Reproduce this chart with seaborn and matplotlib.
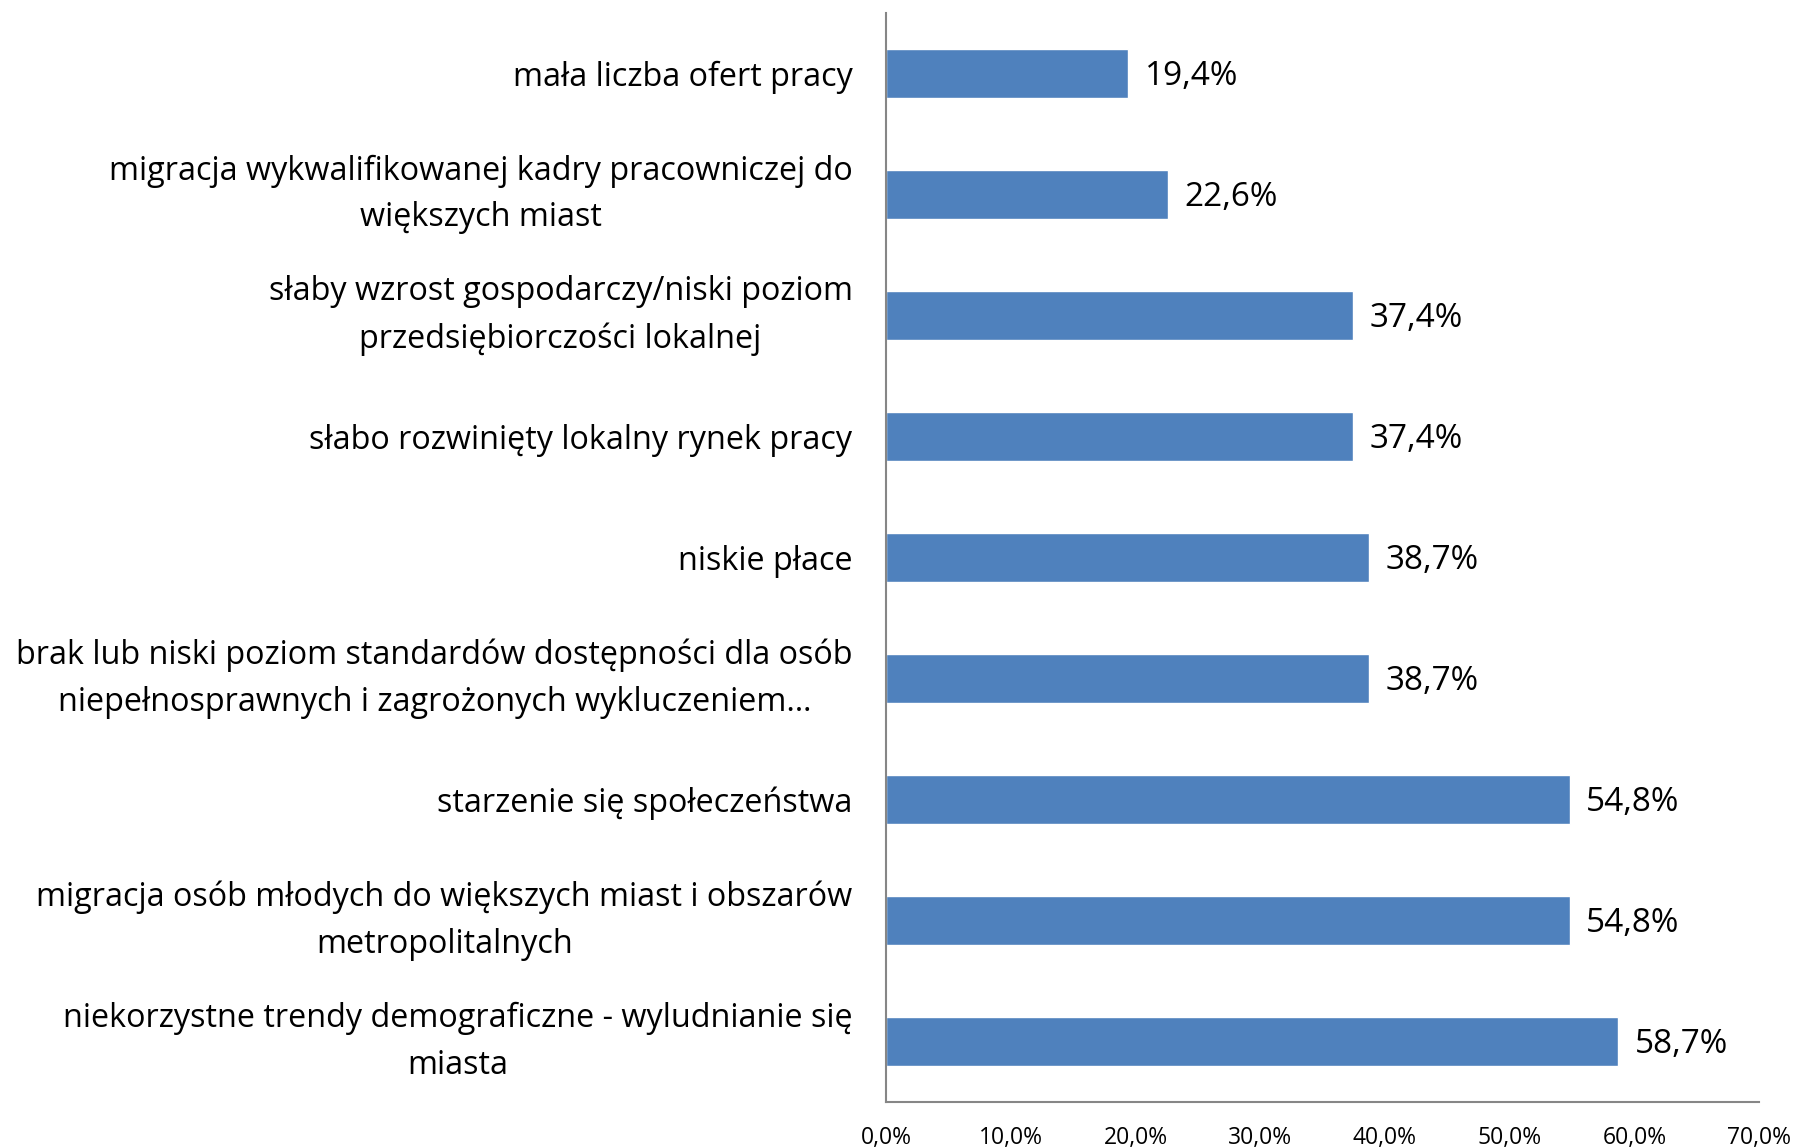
import matplotlib.pyplot as plt
import seaborn as sns
import pandas as pd
from matplotlib.ticker import FuncFormatter

# Dane (od góry do dołu)
categories = [
    'mała liczba ofert pracy',
    'migracja wykwalifikowanej kadry pracowniczej do\nwiększych miast',
    'słaby wzrost gospodarczy/niski poziom\nprzedsiębiorczości lokalnej',
    'słabo rozwinięty lokalny rynek pracy',
    'niskie płace',
    'brak lub niski poziom standardów dostępności dla osób\nniepełnosprawnych i zagrożonych wykluczeniem…',
    'starzenie się społeczeństwa',
    'migracja osób młodych do większych miast i obszarów\nmetropolitalnych',
    'niekorzystne trendy demograficzne - wyludnianie się\nmiasta',
]
values = [19.4, 22.6, 37.4, 37.4, 38.7, 38.7, 54.8, 54.8, 58.7]
x_ticks = [0, 10, 20, 30, 40, 50, 60, 70]

df = pd.DataFrame({'kategoria': categories, 'procent': values})

sns.set_style('white')
plt.rcParams['font.family'] = ['Open Sans', 'DejaVu Sans']
plt.rcParams['text.color'] = 'black'

axis_color = '#868686'
pct = lambda v: f'{v:.1f}%'.replace('.', ',')

fig, ax = plt.subplots(figsize=(17.97, 11.48), dpi=100)
fig.subplots_adjust(left=0.493, right=0.979, top=0.9887, bottom=0.04)

sns.barplot(data=df, x='procent', y='kategoria', color='#4F81BD',
            saturation=1, width=0.4, ax=ax)

ax.set_xlim(0, 70)
ax.set_ylim(len(categories) - 0.5, -0.5)
ax.set_xticks(x_ticks)
ax.xaxis.set_major_formatter(FuncFormatter(lambda v, p: pct(v)))
ax.set_xlabel('')
ax.set_ylabel('')

# kreski osi Y na granicach kategorii
ax.set_yticks([i - 0.5 for i in range(len(categories) + 1)], minor=True)
ax.tick_params(axis='y', which='major', length=0, pad=24, labelsize=23.3,
               labelcolor='black')
ax.tick_params(axis='y', which='minor', length=12, width=1.5, color=axis_color)
ax.tick_params(axis='x', which='major', length=9, width=1.5, color=axis_color,
               pad=8, labelsize=16.5, labelcolor='black')
for lbl in ax.get_yticklabels():
    lbl.set_multialignment('center')
    if '\n' in lbl.get_text():
        lbl.set_linespacing(1.55)
        lbl.set_verticalalignment('center')

for side in ['top', 'right']:
    ax.spines[side].set_visible(False)
for side in ['left', 'bottom']:
    ax.spines[side].set_color(axis_color)
    ax.spines[side].set_linewidth(1.5)

for p, v in zip(ax.patches, values):
    ax.annotate(pct(v), (p.get_width(), p.get_y() + p.get_height() / 2),
                xytext=(12, -2), textcoords='offset points',
                va='center', ha='left', fontsize=24, color='black')

fig.savefig('out.png', dpi=100)
